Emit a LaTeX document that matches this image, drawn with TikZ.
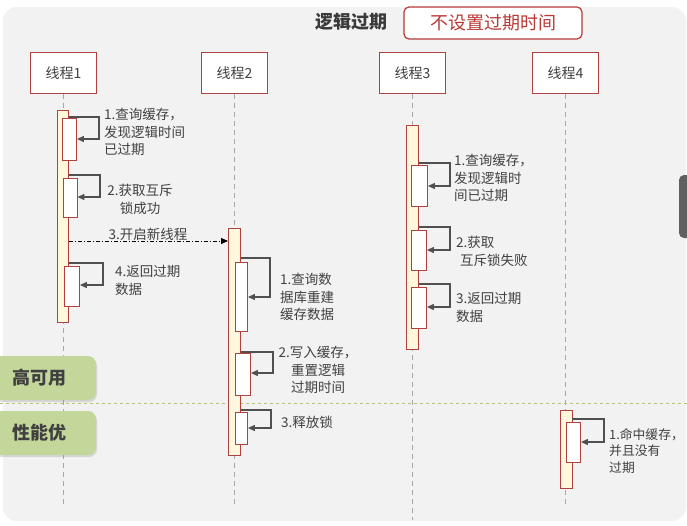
\documentclass[tikz,border=0pt]{standalone}
\usepackage{fontspec}
\setmainfont{Noto Sans CJK SC}
\usetikzlibrary{arrows.meta,shadows}
\definecolor{panel}{HTML}{F2F2F2}
\definecolor{dred}{HTML}{B0413E}
\definecolor{barfill}{HTML}{FFF8DC}
\definecolor{txt}{HTML}{404040}
\definecolor{lnc}{HTML}{505050}
\definecolor{tagg}{HTML}{C4D79B}
\definecolor{sepg}{HTML}{B3C57A}
\definecolor{titlered}{HTML}{B83A36}
\begin{document}
\begin{tikzpicture}[x=1pt,y=-1pt,
  thread/.style={draw=dred, line width=1pt, fill=white, minimum width=66, minimum height=41, inner sep=0, font=\fontsize{14}{16}\selectfont, text=txt},
  barbox/.style={draw=dred, line width=0.9pt, fill=barfill, inner sep=0, anchor=north west},
  actbox/.style={draw=dred, line width=0.9pt, fill=white, inner sep=0, anchor=north west},
  life/.style={draw=gray!70, line width=0.6pt, dash pattern=on 5pt off 4pt},
  selfarrow/.style={draw=lnc, line width=1.1pt, -{Triangle[length=7pt,width=6pt]}},
  lbl/.style={anchor=north west, inner sep=0, align=left, text=txt, font=\fontsize{13.5}{17.5}\selectfont},
  lblc/.style={anchor=north, inner sep=0, align=center, text=txt, font=\fontsize{13.5}{17.5}\selectfont},
  tag/.style={fill=tagg, rounded corners=8pt, drop shadow={opacity=0.25, shadow xshift=1pt, shadow yshift=-2pt}},
  tagtext/.style={anchor=west, inner sep=0, text=txt, font=\bfseries\fontsize{18}{20}\selectfont}
]
\useasboundingbox (0,0) rectangle (687,525);
\clip (0,0) rectangle (687,525);
\fill[white] (0,0) rectangle (687,525);
\fill[panel, rounded corners=14pt] (3,7) rectangle (686,521);
% right side grey handle
\fill[gray!75!black, rounded corners=5pt] (679,175) rectangle (700,238);

% title
\node[inner sep=0, text=txt!90!black, font=\bfseries\fontsize{18}{20}\selectfont] (title) at (351,22) {逻辑过期};
\node[draw=titlered, line width=1.2pt, fill=white, rounded corners=5pt, minimum width=178, minimum height=32, inner sep=0, text=titlered, font=\fontsize{18}{20}\selectfont] (note) at (493,23) {不设置过期时间};

% threads
\node[thread] (t1) at (63.5,73) {线程1};
\node[thread] (t2) at (234.5,73) {线程2};
\node[thread] (t3) at (412.5,73) {线程3};
\node[thread] (t4) at (565.5,73) {线程4};
\coordinate (e1) at (63.5,507);
\coordinate (e2) at (234.5,507);
\coordinate (e3) at (412.5,520);
\coordinate (e4) at (565.5,507);
\draw[life] (t1.south) -- (e1);
\draw[life] (t2.south) -- (e2);
\draw[life] (t3.south) -- (e3);
\draw[life] (t4.south) -- (e4);

% separator and tags
\coordinate (sepL) at (0,403);
\coordinate (sepR) at (687,403);
\draw[sepg, line width=1pt, dash pattern=on 3pt off 3pt] (sepL) -- (sepR);
\fill[tag] (-12,356) rectangle (96,400);
\fill[tag] (-12,411) rectangle (96,455);
\node[tagtext] (tagA) at (12,378) {高可用};
\node[tagtext] (tagB) at (12,433) {性能优};

% thread 1
\node[barbox, minimum width=11, minimum height=212] (b1) at (57,110) {};
\node[actbox, minimum width=14, minimum height=42] (a11) at (62,118) {};
\node[actbox, minimum width=14, minimum height=39] (a12) at (62.5,178) {};
\node[actbox, minimum width=15, minimum height=40] (a13) at (64,266) {};
\draw[selfarrow] (b1.east |- 0,117) -- (99,117) -- (99,139) -- (a11.east |- 0,139);
\draw[selfarrow] (b1.east |- 0,175) -- (100,175) -- (100,197) -- (a12.east |- 0,197);
\draw[selfarrow] (b1.east |- 0,263) -- (103,263) -- (103,285) -- (a13.east |- 0,285);
\node[lbl] (l11) at (104,108) {1.查询缓存，\\发现逻辑时间\\已过期};
\node[lblc] (l12) at (140,184) {2.获取互斥\\锁成功};
\node[lbl] (l13) at (115,265) {4.返回过期\\数据};

% thread 2
\node[barbox, minimum width=12, minimum height=227] (b2) at (228,228) {};
\node[actbox, minimum width=12, minimum height=69] (a21) at (235,262) {};
\node[actbox, minimum width=15, minimum height=42] (a22) at (235,353) {};
\node[actbox, minimum width=12, minimum height=32] (a23) at (235,412) {};
\draw[selfarrow] (b2.east |- 0,258) -- (270,258) -- (270,297) -- (a21.east |- 0,297);
\draw[selfarrow] (b2.east |- 0,352) -- (273,352) -- (273,373) -- (a22.east |- 0,373);
\draw[selfarrow] (b2.east |- 0,410) -- (271,410) -- (271,428) -- (a23.east |- 0,428);
\node[lbl] (l21) at (280,273) {1.查询数\\据库重建\\缓存数据};
\node[lblc] (l22) at (318,346) {2.写入缓存，\\重置逻辑\\过期时间};
\node[lbl] (l23) at (281,416) {3.释放锁};

% message
\draw[black, line width=0.9pt, dash pattern=on 4pt off 2pt on 1pt off 2pt, -{Triangle[length=7pt,width=6pt]}] (b1.east |- 0,241) -- (b2.west |- 0,241);
\node[inner sep=0, text=txt, font=\fontsize{13.5}{16}\selectfont] (m3) at (148,234) {3.开启新线程};

% thread 3
\node[barbox, minimum width=12, minimum height=224] (b3) at (406,125) {};
\node[actbox, minimum width=16, minimum height=41] (a31) at (411,165) {};
\node[actbox, minimum width=15, minimum height=40] (a32) at (411,230) {};
\node[actbox, minimum width=15, minimum height=41] (a33) at (411,287) {};
\draw[selfarrow] (b3.east |- 0,163) -- (450,163) -- (450,186) -- (a31.east |- 0,186);
\draw[selfarrow] (b3.east |- 0,227) -- (450,227) -- (450,250) -- (a32.east |- 0,250);
\draw[selfarrow] (b3.east |- 0,284) -- (450,284) -- (450,307) -- (a33.east |- 0,307);
\node[lbl] (l31) at (454,154) {1.查询缓存，\\发现逻辑时\\间已过期};
\node[lbl] (l32) at (456,236) {2.获取\\\hspace*{4pt}互斥锁失败};
\node[lbl] (l33) at (456,292) {3.返回过期\\数据};

% thread 4
\node[barbox, minimum width=11.5, minimum height=78] (b4) at (560,410) {};
\node[actbox, minimum width=14, minimum height=40] (a41) at (566,422) {};
\draw[selfarrow] (b4.east |- 0,419) -- (604,419) -- (604,442) -- (a41.east |- 0,442);
\node[lbl, font=\fontsize{12.8}{16.5}\selectfont] (l41) at (609,428) {1.命中缓存，\\并且没有\\过期};
\end{tikzpicture}
\end{document}
